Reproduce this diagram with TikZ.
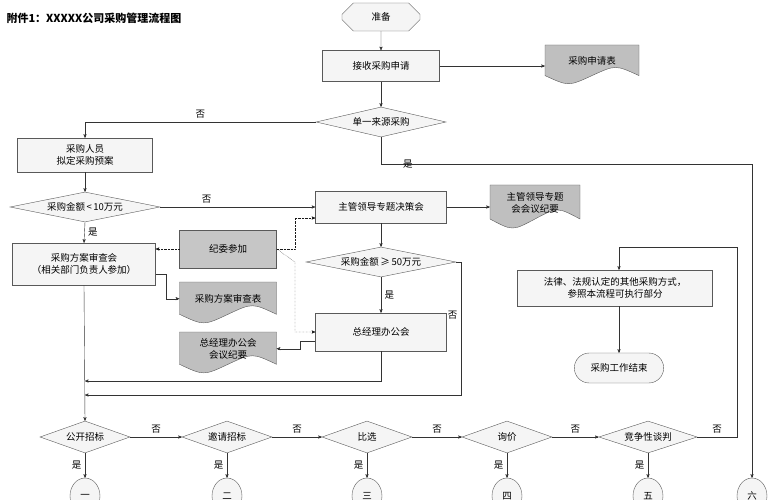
\documentclass[tikz,border=0pt]{standalone}
\usepackage{fontspec}
\setmainfont{Noto Sans CJK SC}
\usepackage{tikz}
\usetikzlibrary{arrows,shapes.geometric,shapes.misc,calc}

% document shape with wavy bottom
\newcommand{\docu}[5]{%
  \fill[gray!50,draw=gray!70!black] ($(#2)+(-#3/2,-#4/2)$) -- ++(#3,0) -- ++(0,#4*0.85)
    .. controls ++(-#3*0.25,-#4*0.3) and ++(#3*0.25,-#4*0.3) .. ++(-#3/2,0)
    .. controls ++(-#3*0.25,#4*0.3) and ++(#3*0.25,#4*0.3) .. ++(-#3/2,0) -- cycle;
  \node[align=center] (#1) at ($(#2)+(0,-#4*0.06)$) [minimum width=#3pt,minimum height=#4pt] {#5};}

\begin{document}
\begin{tikzpicture}[x=1pt,y=-1pt,>=stealth',font=\fontsize{9.5}{12}\selectfont,
    box/.style={rectangle,draw=gray!70!black,fill=gray!8,align=center},
    dec/.style={diamond,draw=gray!70!black,fill=gray!8,aspect=4.5,inner sep=1pt},
    lnk/.style={draw=gray!40!black},
    dot/.style={lnk,densely dotted,draw=gray!20!black}]
\useasboundingbox (0,0) rectangle (772,500);
\node[anchor=west,font=\bfseries\fontsize{11}{13}\selectfont] (title) at (3,18) {附件1：XXXXX公司采购管理流程图};

\node[chamfered rectangle,chamfered rectangle xsep=10pt,draw=gray!70!black,fill=gray!8,minimum width=78pt,minimum height=28pt] (start) at (381,17) {准备};
\node[box,minimum width=117pt,minimum height=31pt] (recv) at (381,66) {接收采购申请};
\docu{form}{592,63}{94}{36}{采购申请表}
\node[dec,minimum width=130pt,minimum height=30pt] (single) at (381,122) {单一来源采购};
\node[box,minimum width=135pt,minimum height=34pt] (plan) at (85,155) {采购人员\\拟定采购预案};
\node[dec,minimum width=150pt,minimum height=30pt] (amt10) at (85,207) {采购金额\,<\,10万元};
\node[box,minimum width=131pt,minimum height=32pt] (lead) at (381,207) {主管领导专题决策会};
\docu{leadmin}{535,205}{90}{40}{主管领导专题\\会会议纪要}
\node[box,minimum width=143pt,minimum height=42pt] (review) at (84,264) {采购方案审查会\\（相关部门负责人参加）};
\node[box,fill=gray!45,minimum width=97pt,minimum height=38pt] (disc) at (228,249) {纪委参加};
\docu{revform}{228,301}{97}{38}{采购方案审查表}
\node[dec,minimum width=150pt,minimum height=30pt] (amt50) at (381,262) {采购金额\,≥\,50万元};
\node[box,minimum width=131pt,minimum height=38pt] (gm) at (381,332) {总经理办公会};
\docu{gmmin}{228,351}{97}{38}{总经理办公会\\会议纪要}
\node[box,minimum width=195pt,minimum height=36pt] (law) at (615,288) {法律、法规认定的其他采购方式，\\参照本流程可执行部分};
\node[rounded rectangle,draw=gray!70!black,fill=gray!8,minimum width=96pt,minimum height=30pt] (end) at (619,368) {采购工作结束};

\foreach \n/\x/\t in {m1/85/公开招标,m2/227/邀请招标,m3/367/比选,m4/507/询价,m5/648/竞争性谈判}
  \node[dec,minimum width=90pt,minimum height=32pt] (\n) at (\x,437) {\t};
\foreach \n/\x/\t in {c1/85/一,c2/227/二,c3/367/三,c4/507/四,c5/648/五,c6/752/六}
  \node[ellipse,draw=gray!70!black,fill=gray!8,minimum width=30pt,minimum height=36pt] (\n) at (\x,496) {\t};

% main flow
\draw[lnk,->] (start) -- (recv);
\draw[lnk,->] (recv.east) -- (recv.east -| form.west);
\draw[lnk,->] (recv) -- (single);
\draw[lnk,->] (single.west) -| node[pos=0.25,above] {否} (plan.north);
\draw[lnk,->] (single.south) |- (381,164) -| node[pos=0.05,left=2pt] {是} (c6.north);
\draw[lnk,->] (plan) -- (amt10);
\draw[lnk,->] (amt10.east) -- node[above,pos=0.3] {否} (lead.west);
\draw[lnk,->] (lead.east) -- (lead.east -| leadmin.west);
\draw[lnk,->] (amt10.south) -- node[right] {是} (review.north);
\draw[lnk,->] (lead) -- (amt50);
\draw[lnk,->] (amt50) -- node[right] {是} (gm);
\draw[lnk,->] (review.east |- 0,274) -- (166,274) |- (revform.west);
\draw[lnk,->] (gm.west |- 0,341) -- (300,341) |- (gmmin.east);
\draw[dot,->] (disc.west) -- (review.east |- disc.west);
\draw[dot,->] (disc.east) -- (295,249) |- (lead.west |- 0,218);
\draw[dot,->] (disc.east) -- (295,262) |- (gm.west |- 0,332);
\draw[lnk,->] (gm.south) |- (85,381);
\draw[lnk,->] (amt50.east) -- (461,262) |- node[pos=0.2,left] {否} (85,395);
\draw[lnk,->] (review.south) -- (m1.north);
\draw[lnk,->] (m5.east) -- node[above] {否} (737,437) |- (619,247) -- (law.north -| 619,0);
\draw[lnk,->] (law.south -| end.north) -- (end.north);
\foreach \a/\b in {m1/m2,m2/m3,m3/m4,m4/m5}
  \draw[lnk,->] (\a.east) -- node[above] {否} (\b.west);
\foreach \i in {1,...,5}
  \draw[lnk,->] (m\i.south) -- node[left] {是} (c\i.north);
\end{tikzpicture}
\end{document}
